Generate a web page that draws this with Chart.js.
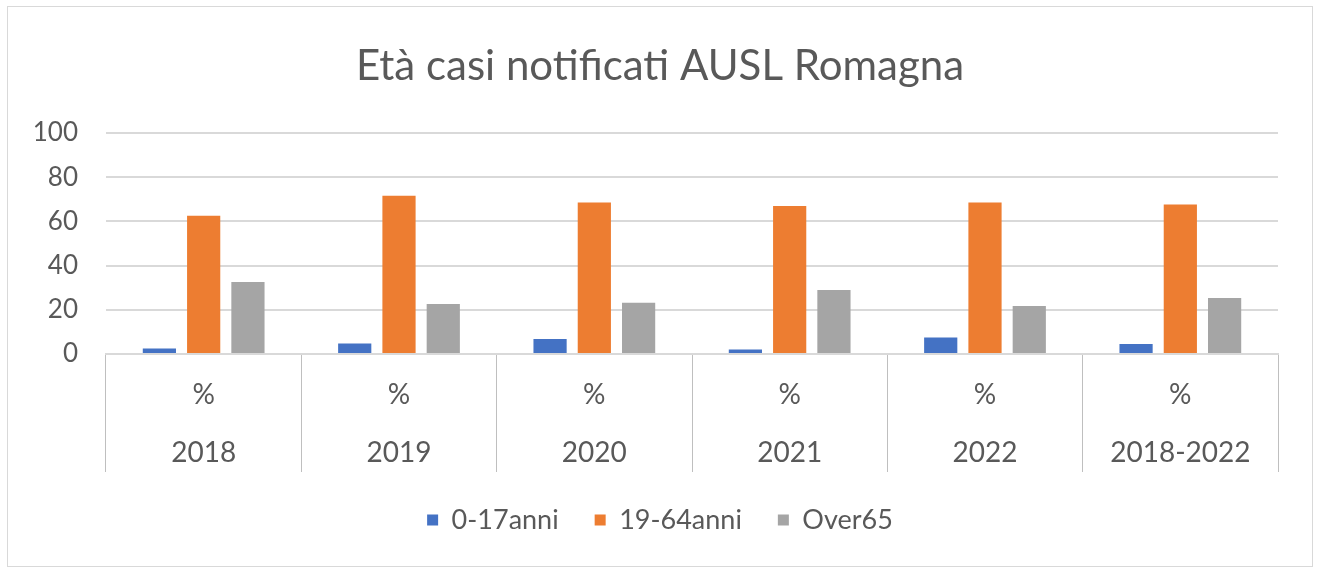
<!DOCTYPE html>
<html>
<head>
<meta charset="utf-8">
<script src="https://cdn.jsdelivr.net/npm/chart.js@4"></script>
<style>
  html, body { margin: 0; padding: 0; background: #fff; }
  #frame { position: absolute; left: 7px; top: 6px; width: 1304px; height: 559px; border: 1px solid #d9d9d9; }
  #wrap { position: absolute; left: 0; top: 0; width: 1320px; height: 570px; }
</style>
</head>
<body>
<div id="frame"></div>
<div id="wrap"><canvas id="ageChart"></canvas></div>
<script>
// values (percent)
const years = ['2018', '2019', '2020', '2021', '2022', '2018-2022'];
const unitLabel = '%';
const age0to17 = [2.5, 4.7, 6.8, 2, 7.5, 4.5];
const age19to64 = [62.6, 71.6, 68.6, 67, 68.6, 67.6];
const over65 = [32.6, 22.6, 23.2, 29, 21.7, 25.3];
const yTicks = [0, 20, 40, 60, 80, 100];

const textColor = '#595959';
const fontFamily = 'Lato';

function generateChart() {
    const ctx = document.getElementById('ageChart').getContext('2d');

    const chartData = {
        labels: years.map(y => [unitLabel, y]),
        datasets: [
            { label: '0-17anni', data: age0to17, backgroundColor: '#4472C4' },
            { label: '19-64anni', data: age19to64, backgroundColor: '#ED7D31' },
            { label: 'Over65', data: over65, backgroundColor: '#A5A5A5' }
        ]
    };

    const chartOptions = {
        responsive: false,
        animation: false,
        categoryPercentage: 0.68,
        barPercentage: 0.75,
        layout: { padding: { top: 0, left: 0, right: 0, bottom: 26.5 } },
        plugins: {
            title: {
                display: true,
                text: 'Età casi notificati AUSL Romagna',
                color: textColor,
                font: { family: fontFamily, size: 42, weight: 'normal' },
                padding: { top: 41, bottom: 41.6 }
            },
            legend: {
                position: 'bottom',
                labels: {
                    color: textColor,
                    font: { family: fontFamily, size: 27 },
                    boxWidth: 11,
                    boxHeight: 11,
                    padding: 36
                }
            },
            tooltip: { enabled: false }
        },
        scales: {
            x: {
                grid: {
                    offset: true,
                    drawOnChartArea: false,
                    tickLength: 118,
                    color: '#bfbfbf'
                },
                border: { color: '#d9d9d9', width: 2 },
                ticks: {
                    color: textColor,
                    font: { family: fontFamily, size: 28, lineHeight: 58 / 28 },
                    padding: -106,
                    maxRotation: 0
                },
                afterFit: s => { s.height = 116.5; }
            },
            y: {
                min: 0,
                max: 100,
                afterBuildTicks: s => { s.ticks = yTicks.map(v => ({ value: v })); },
                grid: { color: '#d9d9d9', lineWidth: 2, drawTicks: false },
                border: { display: false },
                ticks: {
                    color: textColor,
                    font: { family: fontFamily, size: 26 },
                    padding: 28
                },
                afterFit: s => { s.width = 106; }
            },
            // empty right-hand axis only to keep the right margin
            yRight: {
                position: 'right',
                grid: { display: false },
                border: { display: false },
                ticks: { display: false },
                afterFit: s => { s.width = 42; }
            }
        }
    };

    new Chart(ctx, {
        type: 'bar',
        data: chartData,
        options: chartOptions
    });
}

const cv = document.getElementById('ageChart');
cv.width = 1320;
cv.height = 570;
generateChart();
</script>
</body>
</html>
